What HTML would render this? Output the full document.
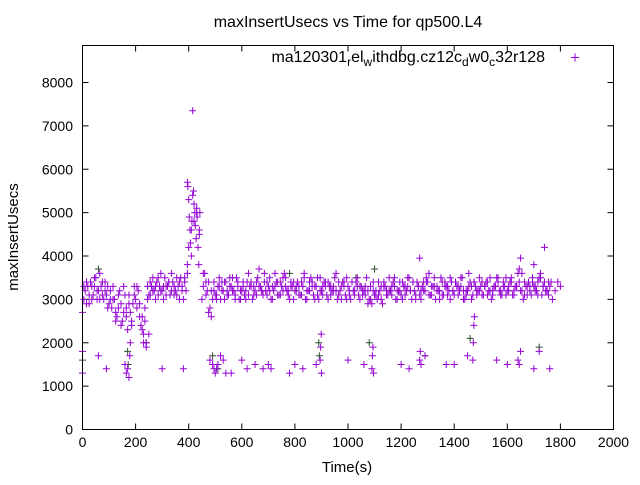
<!DOCTYPE html>
<html><head><meta charset="utf-8"><style>
body{margin:0;background:#fff}
svg text{font-family:"Liberation Sans",sans-serif;font-size:14px;fill:#000}
</style></head><body>
<svg id="chart" width="640" height="480" viewBox="0 0 640 480" xmlns="http://www.w3.org/2000/svg">
<text x="348" y="27" text-anchor="middle" style="font-size:16px">maxInsertUsecs vs Time for qp500.L4</text>
<g id="axes"></g>
<g id="marks"></g>
<rect x="82.5" y="45.5" width="531" height="384" fill="none" stroke="#000" stroke-width="1"/>
<text x="545" y="62" text-anchor="end" style="font-size:16px">ma120301<tspan font-size="12" dy="4">r</tspan><tspan dy="-4">el</tspan><tspan font-size="12" dy="4">w</tspan><tspan dy="-4">ithdbg.cz12c</tspan><tspan font-size="12" dy="4">d</tspan><tspan dy="-4">w0</tspan><tspan font-size="12" dy="4">c</tspan><tspan dy="-4">32r128</tspan></text>
<path d="M571 57.5h8M575 53.5v8" stroke="#9400d3" stroke-width="1"/>
<text x="347" y="472" text-anchor="middle" style="font-size:15px">Time(s)</text>
<text x="0" y="0" text-anchor="middle" transform="translate(18,237) rotate(-90)" style="font-size:15px">maxInsertUsecs</text>
</svg>
<script>
const xTicks=[0,200,400,600,800,1000,1200,1400,1600,1800,2000];
const yTicks=[0,1000,2000,3000,4000,5000,6000,7000,8000];
const bandT=[0,10,20,30,40,50,60,70,80,90,100,110,120,130,140,150,160,170,180,190,200,210,220,230,240,250,260,270,280,290,300,310,320,330,340,350,360,370,380,390,400,410,420,430,440,450,460,470,480,490,500,510,520,530,540,550,560,570,580,590,600,610,620,630,640,650,660,670,680,690,700,710,720,730,740,750,760,770,780,790,800,810,820,830,840,850,860,870,880,890,900,910,920,930,940,950,960,970,980,990,1000,1010,1020,1030,1040,1050,1060,1070,1080,1090,1100,1110,1120,1130,1140,1150,1160,1170,1180,1190,1200,1210,1220,1230,1240,1250,1260,1270,1280,1290,1300,1310,1320,1330,1340,1350,1360,1370,1380,1390,1400,1410,1420,1430,1440,1450,1460,1470,1480,1490,1500,1510,1520,1530,1540,1550,1560,1570,1580,1590,1600,1610,1620,1630,1640,1650,1660,1670,1680,1690,1700,1710,1720,1730,1740,1750,1760,1770,1780,1790,1800];
const bandA=[2700,3200,3300,3400,3100,3500,3200,3300,3000,3100,2900,2800,3000,2600,3200,2500,3100,2300,2700,2900,3000,3200,2400,2200,2000,3100,3300,3200,3400,3300,3200,3500,3300,3100,3400,3200,3300,3500,3000,3200,4200,4600,4800,5000,4500,3000,3600,3200,2800,3000,3100,3300,3000,3200,3400,3100,3300,3200,3500,3000,3200,3100,3400,3300,3000,3200,3500,3300,3100,3200,3300,3000,3200,3400,3100,3300,3600,3200,3000,3300,3200,3400,3100,3300,3000,3200,3500,3100,3300,3000,3200,3400,3100,3300,3200,3500,3000,3200,3400,3100,3300,3000,3200,3400,3100,3300,3200,3500,3000,2900,3100,3000,3200,2900,3300,3100,3200,3400,3000,3200,3100,3300,3200,3500,3000,3200,3400,3100,3300,3200,3400,3100,3300,3000,3200,3500,3100,3300,3200,3400,3100,3300,3200,3500,3000,3200,3400,3100,3300,3200,3300,3100,3400,3200,3000,3300,3500,3200,3100,3300,3200,3400,3100,3300,3600,3200,3000,3300,3400,3100,3300,3200,3500,3100,3400,3200,3300,3000,3200,3400,3300];
const bandT2=[5,15,25,35,45,55,65,75,85,95,105,115,125,135,145,155,165,175,185,195,205,215,225,235,245,255,265,275,285,295,305,315,325,335,345,355,365,375,385,395,455,465,475,485,495,505,515,525,535,545,555,565,575,585,595,605,615,625,635,645,655,665,675,685,695,705,715,725,735,745,755,765,775,785,795,805,815,825,835,845,855,865,875,885,895,905,915,925,935,945,955,965,975,985,995,1005,1015,1025,1035,1045,1055,1065,1075,1085,1095,1105,1115,1125,1135,1145,1155,1165,1175,1185,1195,1205,1215,1225,1235,1245,1255,1265,1275,1285,1295,1305,1315,1325,1335,1345,1355,1365,1375,1385,1395,1405,1415,1425,1435,1445,1455,1465,1475,1485,1495,1505,1515,1525,1535,1545,1555,1565,1575,1585,1595,1605,1615,1625,1635,1645,1655,1665,1675,1685,1695,1705,1715,1725,1735,1745,1755,1765,1775,1785,1795];
const bandB=[3000,3400,2900,3300,3500,3000,3600,3100,3400,2800,3200,3000,2700,3100,2400,3300,2600,2900,2500,3100,2800,2600,2300,2500,3000,3400,3500,3300,3100,3600,3300,3100,3400,3600,3300,3100,3400,3200,3500,3800,3600,3400,2700,3200,3400,3000,3500,3200,3400,3100,3300,3500,3000,3300,3200,3400,3000,3600,3300,3100,3400,3700,3200,3400,3100,3500,3000,3300,3400,3100,3500,3300,3200,3400,3000,3300,3100,3400,3600,3200,3400,3300,3000,3100,3500,3300,3400,3000,3300,3200,3600,3100,3300,3400,3000,3200,3400,3100,3500,3300,3200,3100,2900,3300,3200,3100,3400,3000,3300,3200,3500,3100,3300,3200,3400,3000,3300,3500,3200,3400,3100,3300,3000,3200,3400,3600,3100,3300,3200,3000,3400,3300,3100,3500,3200,3400,3100,3300,3000,3200,3600,3300,3400,3100,3200,3400,3300,3100,3500,3200,3300,3400,3100,3300,3500,3200,3400,3100,3300,3700,3200,3400,3100,3300,3500,3200,3400,3600,3300,3200,3100,3400];
const bandC=[3300,2900,3100,3000,3300,3200,3000,3400,3200,3300,3000,3300,2500,2800,2900,2700,2800,3100,2400,3300,3300,2900,2600,2800,3300,3100,3200,3000,3500,3200,3000,3300,3400,3200,3100,3500,3000,3300,3400,3600,3300,3100,3400,2600,3200,3100,3300,3400,3000,3200,3500,3200,3100,3400,3000,3300,3200,3100,3400,3300,3100,3300,3200,3600,3400,3200,3300,3600,3100,3400,3200,3500,3100,3300,3400,3200,3300,3100,3500,3000,3200,3400,3300,3500,3200,3100,3300,3400,3100,3300,3200,3400,3000,3300,3500,3100,3400,3200,3300,3000,3100,3300,3200,3000,3400,3200,3100,3300,3400,3100,3200,3300,3500,3000,3200,3400,3100,3300,3200,3400,3000,3300,3200,3400,3500,3100,3300,3500,3300,3200,3100,3400,3300,3000,3200,3400,3300,3500,3200,3100,3300,3000,3400,3200,3500,3100,3300,3400,3200,3100,3300,3500,3200,3400,3100,3300,3500,3200,3300,3400,3600,3100,3300,3200,3400,3300,3100,3500,3300,3200,3400];
const spikeT=[395,397,400,402,405,407,410,412,415,418,420,423,425,428,430,432,435,438,440,442,415];
const spikeV=[5700,5600,5300,4900,4600,4300,4000,4800,5400,5500,5200,5000,4700,4400,5100,4900,4200,3800,4600,5000,7350];
const lowT=[0,0,60,90,160,165,170,175,178,180,230,240,250,300,380,480,490,495,500,505,510,520,530,540,560,600,620,650,680,700,710,780,800,830,880,895,897,899,900,1000,1060,1090,1092,1094,1096,1200,1230,1270,1272,1275,1290,1370,1400,1450,1470,1472,1474,1476,1560,1600,1640,1645,1650,1700,1720,1760,1270,1740,1650,1700];
const lowV=[1300,1800,1700,1400,1500,1300,1400,1200,1700,2000,2000,1900,2200,1400,1400,1600,1500,1400,1300,1400,1500,1700,1600,1300,1300,1600,1400,1500,1400,1500,1400,1300,1500,1400,1500,1600,1900,2200,1300,1600,1500,1400,1700,1900,1300,1500,1400,1600,1800,1500,1700,1500,1500,1700,1600,2000,2400,2600,1600,1500,1600,1500,1800,1400,1800,1400,3950,4200,3950,3800];
const darkT=[0,60,170,172,240,490,510,780,890,892,1030,1080,1100,1290,1460,1720];
const darkV=[1600,3700,1800,1500,2000,1700,1400,3600,2000,1700,3500,2000,3700,1700,2100,1900];

const X0=82.5,X1=613.5,Y0=429.5,Ymax=45.5;
function xs(t){return X0+(t/2000)*(X1-X0);}
function ys(v){return Y0-(v/8000)*(Y0-82.5);}
const NS="http://www.w3.org/2000/svg";
const axes=document.getElementById('axes');
const marks=document.getElementById('marks');
xTicks.forEach(t=>{
  const p=document.createElementNS(NS,'path');
  p.setAttribute('d',`M${xs(t)} ${Y0}v-6M${xs(t)} ${Ymax}v6`);
  p.setAttribute('stroke','#000');
  
  
  axes.appendChild(p);
  const tx=document.createElementNS(NS,'text');
  tx.setAttribute('x',xs(t));tx.setAttribute('y',447);tx.setAttribute('text-anchor','middle');
  tx.textContent=t;
  
  
  axes.appendChild(tx);
});
yTicks.forEach(v=>{
  const p=document.createElementNS(NS,'path');
  p.setAttribute('d',`M${X0} ${ys(v)}h6M${X1} ${ys(v)}h-6`);
  p.setAttribute('stroke','#000');
  
  
  axes.appendChild(p);
  const tx=document.createElementNS(NS,'text');
  tx.setAttribute('x',73);tx.setAttribute('y',ys(v)+5);tx.setAttribute('text-anchor','end');
  tx.textContent=v;
  
  
  axes.appendChild(tx);
});
function plot(T,V,color){
  let d='';
  for(let i=0;i<T.length;i++){
    const x=xs(T[i]),y=ys(V[i]);
    d+=`M${x-3.5} ${y}h7M${x} ${y-3.5}v7`;
  }
  const p=document.createElementNS(NS,'path');
  p.setAttribute('d',d);p.setAttribute('stroke',color);p.setAttribute('stroke-width','1');p.setAttribute('fill','none');
  
  
  marks.appendChild(p);
}
plot(darkT,darkV,'#2f4f2f');
plot(bandT,bandA,'#9400d3');
plot(bandT2,bandB,'#9400d3');
plot(bandT2,bandC,'#9400d3');
plot(spikeT,spikeV,'#9400d3');
plot(lowT,lowV,'#9400d3');
</script>
</body></html>
